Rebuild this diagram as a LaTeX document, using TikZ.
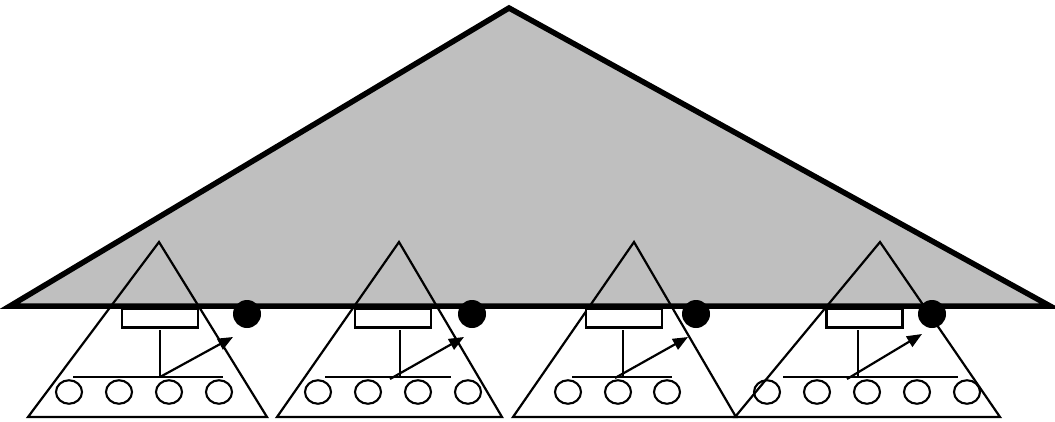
\documentclass[tikz,border=0pt]{standalone}
\usetikzlibrary{arrows.meta,shapes.geometric}
\begin{document}
\begin{tikzpicture}[x=1pt,y=-1pt,
  thin line/.style={line width=2.2pt,line join=miter},
  leaf/.style={draw,line width=2.1pt,ellipse,minimum width=26pt,minimum height=23.5pt,inner sep=0pt},
  buf/.style={draw,line width=2.1pt,fill=white,rectangle,minimum width=76pt,minimum height=19pt,inner sep=0pt},
  dot/.style={circle,fill=black,minimum size=28pt,inner sep=0pt},
  ptr/.style={line width=2.2pt,-{Triangle[length=15pt,width=12pt]}},
  big/.style={line width=5.5pt,line join=miter}]
\useasboundingbox (0,0) rectangle (1055,421);
% big triangle fill
\coordinate (A) at (509,8);
\coordinate (BL) at (10,306);
\coordinate (BR) at (1050,306);
\fill[fill=black!25] (A) -- (BR) -- (BL) -- cycle;
% dots
\node[dot] (d1) at (247,314) {};
\node[dot] (d2) at (472,314) {};
\node[dot] (d3) at (696,314) {};
\node[dot] (d4) at (932,314) {};
% small triangles
\foreach \n/\ax/\l/\r in {1/159/28/267, 2/399/277/502, 3/634/513/736, 4/880/735/1000}{
  \coordinate (t\n a) at (\ax,242);
  \coordinate (t\n l) at (\l,417);
  \coordinate (t\n r) at (\r,417);
  \draw[thin line] (t\n a) -- (t\n r) -- (t\n l) -- cycle;
}
% subtree 1
\node[buf] (r1) at (160,318) {};
\coordinate (v1) at (160,377);
\coordinate (h1a) at (73,377);
\coordinate (h1b) at (223,377);
\draw[thin line] (160,330) -- (v1);
\draw[thin line] (h1a) -- (h1b);
\foreach \i/\x in {1/69,2/119,3/169,4/219}{\node[leaf] (l1\i) at (\x,392) {};}
\coordinate (e1) at (233,337);
\draw[ptr] (v1) -- (e1);
% subtree 2
\node[buf] (r2) at (393,318) {};
\coordinate (v2) at (400,377);
\coordinate (h2a) at (325,377);
\coordinate (h2b) at (451,377);
\coordinate (s2) at (390,379);
\draw[thin line] (400,330) -- (v2);
\draw[thin line] (h2a) -- (h2b);
\foreach \i/\x in {1/318,2/368,3/418,4/468}{\node[leaf] (l2\i) at (\x,392) {};}
\coordinate (e2) at (464,337);
\draw[ptr] (s2) -- (e2);
% subtree 3
\node[buf] (r3) at (624,318) {};
\coordinate (v3) at (623,377);
\coordinate (h3a) at (572,377);
\coordinate (h3b) at (672,377);
\coordinate (s3) at (615,378);
\draw[thin line] (623,330) -- (v3);
\draw[thin line] (h3a) -- (h3b);
\foreach \i/\x in {1/568,2/618,3/667}{\node[leaf] (l3\i) at (\x,392) {};}
\coordinate (e3) at (688,337);
\draw[ptr] (s3) -- (e3);
% subtree 4
\node[buf] (r4) at (864.5,318) {};
\coordinate (v4) at (858,377);
\coordinate (h4a) at (783,377);
\coordinate (h4b) at (958,377);
\coordinate (s4) at (847,379);
\draw[thin line] (858,330) -- (v4);
\draw[thin line] (h4a) -- (h4b);
\foreach \i/\x in {1/767,2/817,3/867,4/917,5/967}{\node[leaf] (l4\i) at (\x,392) {};}
\coordinate (e4) at (922,334);
\draw[ptr] (s4) -- (e4);
% big triangle outline
\draw[big] (A) -- (BR) -- (BL) -- cycle;
\end{tikzpicture}
\end{document}
